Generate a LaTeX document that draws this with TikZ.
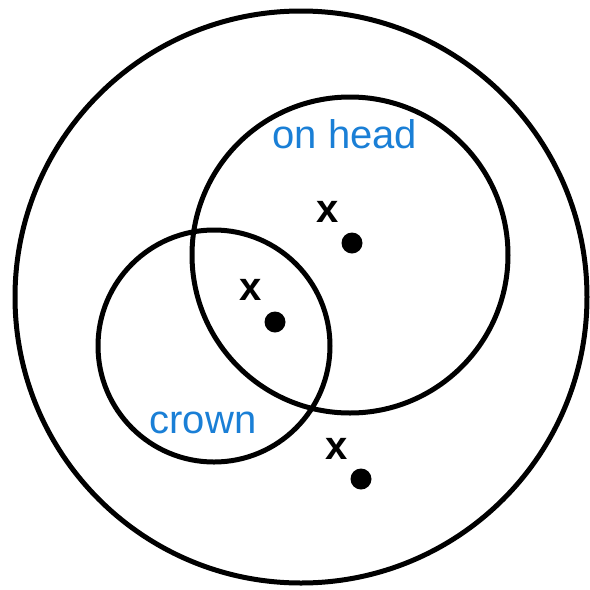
\documentclass[tikz,border=0pt]{standalone}
\usepackage{fontspec}
\setmainfont{Liberation Sans}
\usepackage{xcolor}
\usepackage{tikz}
\usetikzlibrary{positioning}
\definecolor{LabelBlue}{HTML}{1A7FD6}

\begin{document}
\begin{tikzpicture}[
  x=0.5pt, y=-0.5pt,
  ring/.style={draw=black, line width=2.5pt, circle, inner sep=0pt},
  dot/.style={fill=black, circle, inner sep=0pt, minimum size=10.5pt},
  mark label/.style={font=\fontsize{20}{24}\selectfont\bfseries, inner sep=0pt},
  set label/.style={font=\fontsize{20}{24}\selectfont, text=LabelBlue, anchor=base, inner sep=0pt}
]
\useasboundingbox (0,0) rectangle (590,590);
\node[ring, minimum size=286pt] (all) at (301,297) {};
\node[ring, minimum size=158pt] (onhead) at (350,255) {};
\node[ring, minimum size=116pt] (crown) at (214,346) {};
\node[set label] (onheadlabel) at (345,148) {on head};
\node[set label] (crownlabel) at (203,433) {crown};
\node[dot] (p1) at (352,243) {};
\node[dot] (p2) at (275,322) {};
\node[dot] (p3) at (361,479) {};
\node[mark label] (x1) at (328,212) {x};
\node[mark label] (x2) at (251,290) {x};
\node[mark label] (x3) at (337,449) {x};
\end{tikzpicture}
\end{document}
